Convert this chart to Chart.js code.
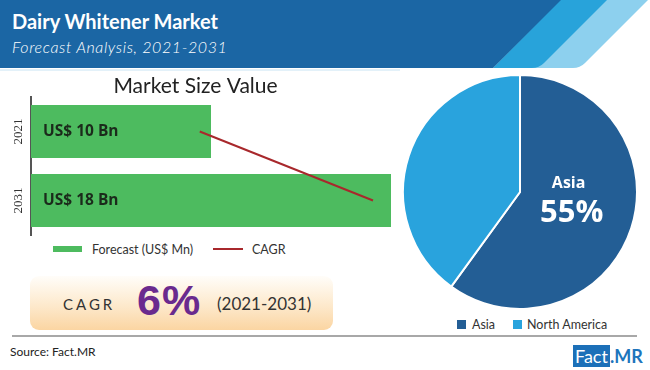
<!DOCTYPE html>
<html>
<head>
<meta charset="utf-8">
<script src="https://cdn.jsdelivr.net/npm/chart.js@4.4.0/dist/chart.umd.min.js"></script>
<style>
  body { margin: 0; width: 650px; height: 370px; overflow: hidden; background: #fff; position: relative; font-family: Lato, 'Open Sans', sans-serif; }
  .abs { position: absolute; white-space: nowrap; }
  #title { left: 12px; top: 11px; font-size: 20px; line-height: 20px; font-weight: bold; color: #fff; }
  #subtitle { left: 12px; top: 39px; font-size: 16px; line-height: 16px; font-style: italic; font-weight: 300; color: #fff; letter-spacing: 0.6px; }
  .swatch { position: absolute; }
  .legtext { position: absolute; font-size: 12.5px; line-height: 13px; color: #333; white-space: nowrap; }
  #cagrBox { left: 30px; top: 276px; width: 303px; height: 54px; border-radius: 9px; background: linear-gradient(to bottom, #fffdf9 0%, #fde9cc 55%, #fbd5a2 100%); }
  #sep { left: 12px; top: 335px; width: 625px; height: 2px; background: #a8a8a8; }
  #source { left: 10px; top: 346px; font-size: 12px; line-height: 12px; color: #222; }
  #logo { left: 573px; top: 347px; font-size: 18px; line-height: 18px; }
  #logo .fact { background: #1c70b8; color: #fff; padding: 0 2px 0 2px; }
  #logo .mr { color: #1d75bc; font-weight: bold; }
</style>
</head>
<body>

<svg class="abs" style="left:0;top:0" width="650" height="72">
  <rect x="0" y="69" width="400" height="2" fill="#e3f1f9"/>
  <path d="M560 0 H648 L585 63 Q580 68 573 68 H493 Z" fill="#8dd0ee"/>
  <path d="M560 0 H607 L544 63 Q539 68 532 68 H493 Z" fill="#28a3da"/>
  <path d="M0 0 H561 L493 68 H0 Z" fill="#1b66a4"/>
</svg>
<div id="title" class="abs">Dairy Whitener Market</div>
<div id="subtitle" class="abs">Forecast Analysis, 2021-2031</div>

<div class="abs" style="left:0;top:70px;width:400px;height:166px;">
  <canvas id="barChart" width="400" height="166"></canvas>
</div>

<div class="swatch" style="left:53px;top:246px;width:29px;height:6px;background:#4dbb5f;"></div>
<div class="legtext" style="left:92px;top:243px;">Forecast (US$ Mn)</div>
<div class="swatch" style="left:213px;top:248px;width:30px;height:2px;background:#a8282c;"></div>
<div class="legtext" style="left:252px;top:243px;">CAGR</div>

<div id="cagrBox" class="abs"></div>
<div class="abs" style="left:63px;top:297px;font-size:15px;line-height:15px;letter-spacing:3px;color:#333;">CAGR</div>
<div class="abs" style="left:137px;top:280px;font-family:'Liberation Sans',Arial,sans-serif;font-weight:bold;font-size:43px;line-height:40px;letter-spacing:1px;color:#6a2a8e;">6%</div>
<div class="abs" style="left:217px;top:295px;font-size:17px;line-height:17px;color:#333;">(2021-2031)</div>

<div class="abs" style="left:402px;top:74px;width:236px;height:236px;">
  <canvas id="pieChart" width="236" height="236"></canvas>
</div>

<div class="swatch" style="left:457px;top:320px;width:9px;height:9px;background:#235e95;"></div>
<div class="legtext" style="left:472px;top:318px;">Asia</div>
<div class="swatch" style="left:513px;top:320px;width:9px;height:9px;background:#29a3dd;"></div>
<div class="legtext" style="left:527px;top:318px;">North America</div>

<div id="sep" class="abs"></div>
<div id="source" class="abs">Source: Fact.MR</div>
<div id="logo" class="abs"><span class="fact">Fact</span><span class="mr">.MR</span></div>

<script>
// market size, horizontal bars
const years = ['2021', '2031'];
const marketSize = [10, 18];
const valueLabels = ['US$ 10 Bn', 'US$ 18 Bn'];
const cagrLine = [9.5, 17.2];

// regional share pie
const regions = ['Asia', 'North America'];
const regionShare = [60, 40];
const asiaLabel = '55%';

const barLabels = {
  id: 'barLabels',
  afterDatasetsDraw(chart) {
    const ctx = chart.ctx;
    const meta = chart.getDatasetMeta(0);
    ctx.save();
    ctx.fillStyle = '#1b2a1b';
    ctx.font = 'bold 15.5px "Open Sans", sans-serif';
    ctx.textBaseline = 'middle';
    meta.data.forEach((bar, i) => {
      ctx.fillText(valueLabels[i], chart.chartArea.left + 12, bar.y);
    });
    ctx.restore();
  },
  afterDraw(chart) {
    // rotated year labels on the y axis
    const ctx = chart.ctx;
    const yScale = chart.scales.y;
    ctx.save();
    ctx.fillStyle = '#333';
    ctx.font = '13px "Liberation Serif", serif';
    ctx.textAlign = 'center';
    ctx.textBaseline = 'middle';
    years.forEach((yr, i) => {
      ctx.save();
      ctx.translate(19, yScale.getPixelForTick(i));
      ctx.rotate(-Math.PI / 2);
      ctx.fillText(yr, 0, 0);
      ctx.restore();
    });
    ctx.restore();
  }
};

new Chart(document.getElementById('barChart'), {
  type: 'bar',
  data: {
    labels: years,
    datasets: [{
      label: 'Forecast (US$ Mn)',
      data: marketSize,
      backgroundColor: '#4dbb5f',
      categoryPercentage: 1,
      barPercentage: 0.77,
      order: 2
    }, {
      type: 'line',
      label: 'CAGR',
      indexAxis: 'y',
      data: cagrLine,
      borderColor: '#a8282c',
      borderWidth: 2,
      pointRadius: 0,
      fill: false,
      order: 1
    }]
  },
  plugins: [barLabels],
  options: {
    indexAxis: 'y',
    responsive: false,
    animation: false,
    devicePixelRatio: 1,
    layout: { padding: { right: 9, bottom: 1 } },
    scales: {
      x: { display: false, min: 2, max: 18 },
      y: {
        grid: { display: true, color: 'transparent', drawTicks: false },
        border: { display: true, color: '#555', width: 2 },
        ticks: { display: false },
        afterFit: (scale) => { scale.width = 31; }
      }
    },
    plugins: {
      legend: { display: false },
      tooltip: { enabled: false },
      title: {
        display: true,
        text: 'Market Size Value',
        color: '#222',
        font: { family: 'Lato', size: 21, weight: 'normal', lineHeight: 1 },
        padding: { top: 6, bottom: 0 }
      }
    }
  }
});

const pieLabels = {
  id: 'pieLabels',
  afterDatasetsDraw(chart) {
    const ctx = chart.ctx;
    const arc = chart.getDatasetMeta(0).data[0];
    const pos = arc.tooltipPosition();
    ctx.save();
    ctx.fillStyle = '#fff';
    ctx.textAlign = 'center';
    ctx.textBaseline = 'middle';
    ctx.font = 'bold 16px "Open Sans", sans-serif';
    ctx.fillText(regions[0], pos.x - 7, pos.y - 27);
    ctx.font = 'bold 31px "Open Sans", sans-serif';
    ctx.fillText(asiaLabel, pos.x - 4, pos.y + 3);
    ctx.restore();
  }
};

new Chart(document.getElementById('pieChart'), {
  type: 'pie',
  data: {
    labels: regions,
    datasets: [{
      data: regionShare,
      backgroundColor: ['#235e95', '#29a3dd'],
      borderColor: '#fff',
      borderWidth: 2
    }]
  },
  plugins: [pieLabels],
  options: {
    responsive: false,
    animation: false,
    devicePixelRatio: 1,
    plugins: {
      legend: { display: false },
      tooltip: { enabled: false }
    }
  }
});
</script>
</body>
</html>
